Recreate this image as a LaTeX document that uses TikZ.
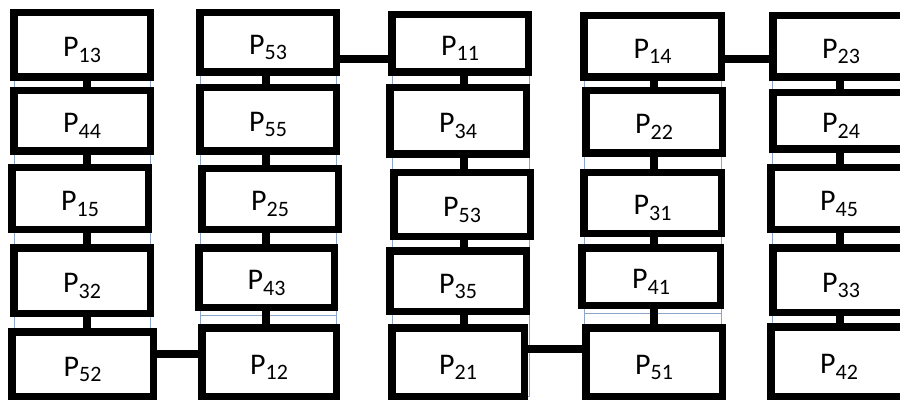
\documentclass[tikz,border=0pt]{standalone}
\usepackage{fontspec}
\setmainfont{Carlito}
\definecolor{framec}{HTML}{8CA6C9}
\tikzset{
  pbox/.style={draw=black, fill=white, line width=7.5pt, inner sep=0pt,
    font=\fontsize{30}{30}\selectfont},
  conn/.style={draw=black, line width=7.5pt},
  framel/.style={draw=framec, line width=0.9pt}
}
\newcommand\Plab[1]{\raisebox{-12pt}[0pt][0pt]{P\raisebox{-5.5pt}{\fontsize{22}{22}\selectfont #1}}}
\newcommand\pbx[6]{\node[pbox, minimum width={(#4-#2-7.5)*1pt}, minimum height={(#5-#3-7.5)*1pt}] (#1) at ({(#2+#4)/2},{(#3+#5)/2}) {\Plab{#6}};}
\begin{document}
\begin{tikzpicture}[x=1pt,y=-1pt]
\clip (0,0) rectangle (900,401);
\fill[white] (0,0) rectangle (900,401);
% thin frames behind columns
\draw[framel] (14,13) rectangle (150,396);
\draw[framel] (200,13) rectangle (336,396);
\draw[framel] (392,13) rectangle (529,396);
\draw[framel] (584,13) rectangle (721,396);
\draw[framel] (772,13) rectangle (910,396);
\draw[framel] (200,315) -- (336,315);
\draw[framel] (584,313) -- (721,313);
% column 1
\pbx{P13}{10}{9}{154}{81}{13}
\pbx{P44}{10}{87}{154}{155}{44}
\pbx{P15}{8}{164}{152}{233}{15}
\pbx{P32}{10}{244}{154}{317}{32}
\pbx{P52}{8}{328}{157}{400}{52}
% column 2
\pbx{P53a}{196}{9}{340}{76}{53}
\pbx{P55}{196}{84}{340}{155}{55}
\pbx{P25}{198}{165}{342}{233}{25}
\pbx{P43}{195}{244}{338}{311}{43}
\pbx{P12}{198}{324}{340}{400}{12}
% column 3
\pbx{P11}{388}{11}{532}{76}{11}
\pbx{P34}{386}{84}{530}{158}{34}
\pbx{P53b}{390}{169}{534}{240}{53}
\pbx{P35}{386}{247}{530}{315}{35}
\pbx{P21}{388}{324}{528}{400}{21}
% column 4
\pbx{P14}{580}{12}{725}{81}{14}
\pbx{P22}{582}{87}{726}{157}{22}
\pbx{P31}{580}{169}{725}{237}{31}
\pbx{P41}{578}{244}{724}{309}{41}
\pbx{P51}{582}{324}{726}{400}{51}
% column 5
\pbx{P23}{769}{12}{913}{81}{23}
\pbx{P24}{769}{89}{913}{153}{24}
\pbx{P45}{767}{164}{911}{233}{45}
\pbx{P33}{769}{244}{913}{316}{33}
\pbx{P42}{767}{323}{911}{400}{42}
% connector guides
\coordinate (c1) at (87,0);
\coordinate (c2) at (266,0);
\coordinate (c3) at (464,0);
\coordinate (c4) at (654,0);
\coordinate (c5) at (840,0);
\coordinate (h1) at (0,59);
\coordinate (h2) at (0,354);
\coordinate (h3) at (0,349);
% vertical connectors
\foreach \a/\b/\c in {P13/P44/c1,P44/P15/c1,P15/P32/c1,P32/P52/c1,
  P53a/P55/c2,P55/P25/c2,P25/P43/c2,P43/P12/c2,
  P11/P34/c3,P34/P53b/c3,P53b/P35/c3,P35/P21/c3,
  P14/P22/c4,P22/P31/c4,P31/P41/c4,P41/P51/c4,
  P23/P24/c5,P24/P45/c5,P45/P33/c5,P33/P42/c5}
  \draw[conn] (\a.south -| \c) -- (\b.north -| \c);
% horizontal connectors
\draw[conn] (P53a.east |- h1) -- (P11.west |- h1);
\draw[conn] (P14.east |- h1) -- (P23.west |- h1);
\draw[conn] (P52.east |- h2) -- (P12.west |- h2);
\draw[conn] (P21.east |- h3) -- (P51.west |- h3);
\end{tikzpicture}
\end{document}
